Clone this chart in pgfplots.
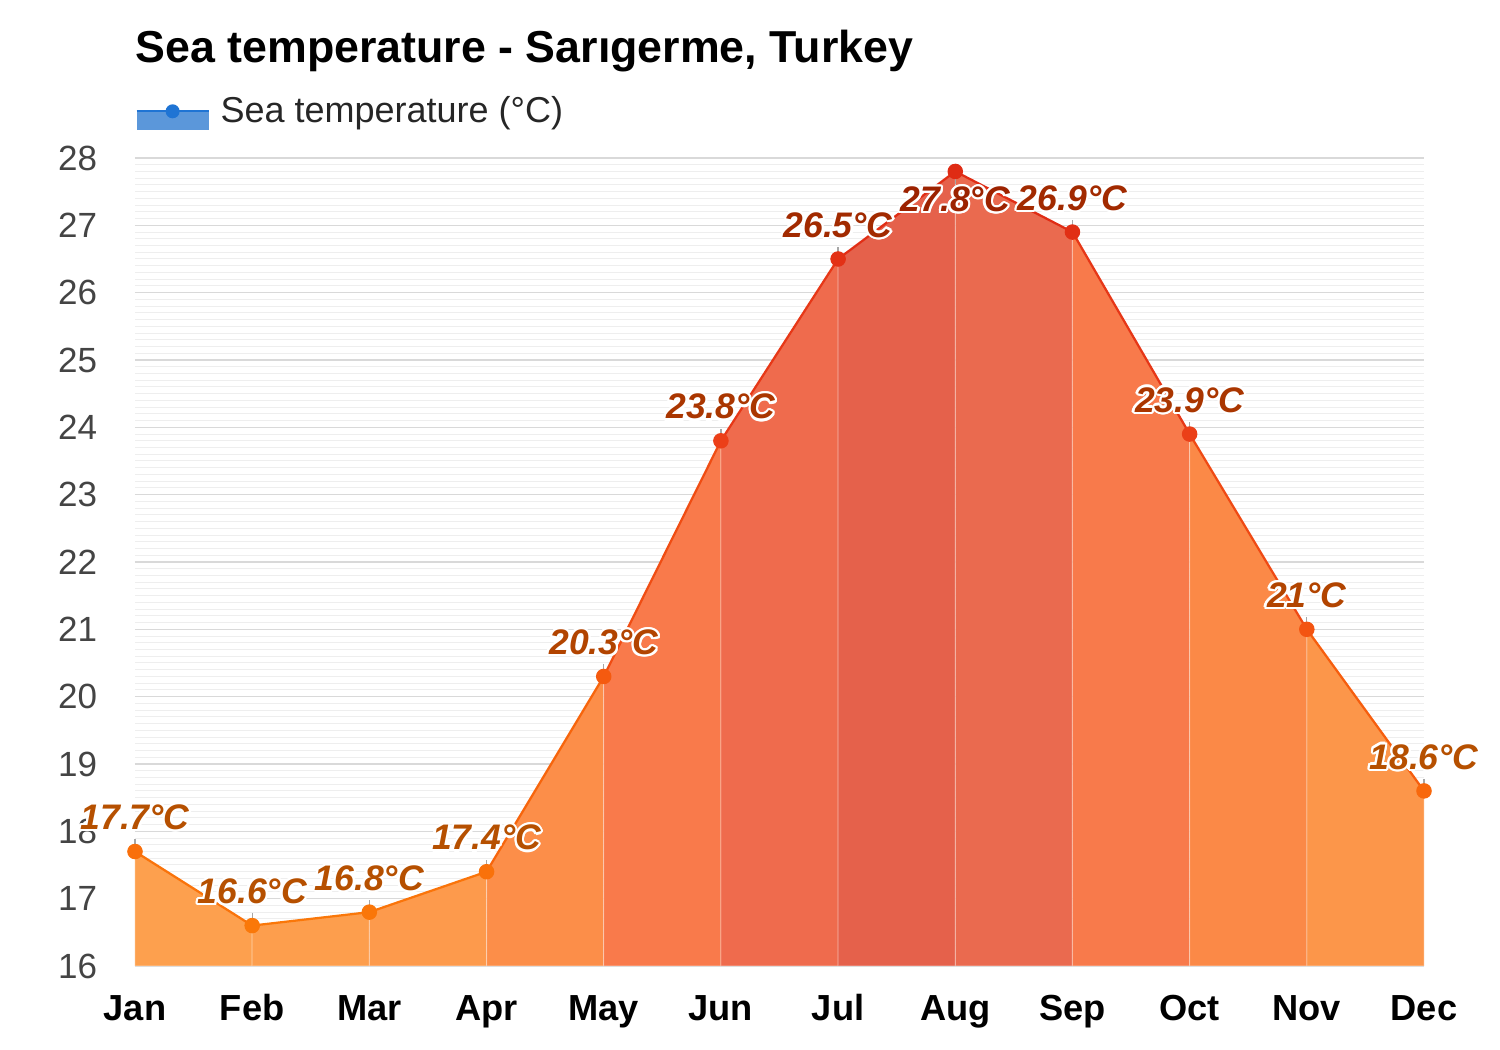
\documentclass[border=0pt]{standalone}
\usepackage{fontspec}
\setmainfont{Liberation Sans}
\usepackage{pgfplots}
\pgfplotsset{compat=1.18}
\usepackage{pgfplotstable}
\usepackage[copies]{contour}
\contourlength{0.9pt}

\definecolor{tickgray}{HTML}{444444}
\definecolor{majgrid}{HTML}{D9D9D9}
\definecolor{mingrid}{HTML}{EEEEEE}
\definecolor{legfill}{HTML}{5B97DA}
\definecolor{legline}{HTML}{1F74D4}
% label colours, light to dark
\definecolor{labA}{HTML}{B65000}
\definecolor{labB}{HTML}{B24400}
\definecolor{labC}{HTML}{AA3600}
\definecolor{labD}{HTML}{A22A00}
\definecolor{labE}{HTML}{9C2200}
% segment fills
\definecolor{f1}{HTML}{FDA04E}
\definecolor{f2}{HTML}{FD9E4D}
\definecolor{f3}{HTML}{FD9A4C}
\definecolor{f4}{HTML}{FC8E49}
\definecolor{f5}{HTML}{F97A4B}
\definecolor{f6}{HTML}{EF6B4D}
\definecolor{f7}{HTML}{E5614B}
\definecolor{f8}{HTML}{EA6A4F}
\definecolor{f9}{HTML}{F87A4B}
\definecolor{f10}{HTML}{FB8947}
\definecolor{f11}{HTML}{FC964A}

\pgfplotstableread{
x y ep em
0 17.7 0.18 0
1 16.6 0.18 0
2 16.8 0.18 0
3 17.4 0.18 0
4 20.3 0.18 0
5 23.8 0.18 0
6 26.5 0.18 0
7 27.8 0 0.18
8 26.9 0.18 0
9 23.9 0.18 0
10 21 0.18 0
11 18.6 0.18 0
}\sea

\pgfplotsset{
    vallabel/.style={only marks, mark=none, forget plot, point meta=y,
        nodes near coords={\color{#1}\contour{white}{\pgfmathprintnumber{\pgfplotspointmeta}°C}},
        every node near coord/.append style={font=\fontsize{14.2}{16}\selectfont\bfseries\itshape,
            anchor=south, yshift=7.5pt, inner sep=0pt}},
    seg/.style={fill=#1, draw=white, draw opacity=0.3, line width=0.4pt, forget plot},
}

\begin{document}
\begin{tikzpicture}
\path[use as bounding box] (-54pt,-33.6pt) rectangle (546pt,386.4pt);
\begin{axis}[
    at={(0,0)}, anchor=south west,
    scale only axis,
    width=515.6pt, height=323.2pt,
    xmin=0, xmax=11, ymin=16, ymax=28,
    clip=false,
    axis line style={draw=none},
    tick style={draw=none},
    xtick={0,...,11},
    xticklabels={Jan,Feb,Mar,Apr,May,Jun,Jul,Aug,Sep,Oct,Nov,Dec},
    x tick label style={font=\fontsize{14.5}{16}\selectfont\bfseries, text=black, inner sep=0pt,
        anchor=north, text height=10.5pt, text depth=3pt},
    xticklabel shift=11pt,
    ytick={16,...,28},
    minor y tick num=9,
    y tick label style={font=\fontsize{14}{16}\selectfont, text=tickgray, inner sep=0pt, anchor=east},
    yticklabel shift=15pt,
    /pgf/number format/assume math mode=true,
    ymajorgrids, yminorgrids,
    major grid style={majgrid, line width=0.5pt},
    minor grid style={mingrid, line width=0.4pt},
    legend style={at={(axis description cs:0,1)}, anchor=south west, yshift=10.5pt,
        draw=none, fill=none, inner sep=0pt,
        font=\fontsize{14.4}{16}\selectfont, text=black!85},
    legend cell align=left,
    colormap={temp}{rgb255=(251,125,8) rgb255=(246,92,14) rgb255=(235,62,24) rgb255=(222,42,20)},
    point meta min=16, point meta max=28,
]
% area, one band per month interval
\addplot[seg=f1] coordinates {(0,16) (0,17.7) (1,16.6) (1,16)} -- cycle;
\addplot[seg=f2] coordinates {(1,16) (1,16.6) (2,16.8) (2,16)} -- cycle;
\addplot[seg=f3] coordinates {(2,16) (2,16.8) (3,17.4) (3,16)} -- cycle;
\addplot[seg=f4] coordinates {(3,16) (3,17.4) (4,20.3) (4,16)} -- cycle;
\addplot[seg=f5] coordinates {(4,16) (4,20.3) (5,23.8) (5,16)} -- cycle;
\addplot[seg=f6] coordinates {(5,16) (5,23.8) (6,26.5) (6,16)} -- cycle;
\addplot[seg=f7] coordinates {(6,16) (6,26.5) (7,27.8) (7,16)} -- cycle;
\addplot[seg=f8] coordinates {(7,16) (7,27.8) (8,26.9) (8,16)} -- cycle;
\addplot[seg=f9] coordinates {(8,16) (8,26.9) (9,23.9) (9,16)} -- cycle;
\addplot[seg=f10] coordinates {(9,16) (9,23.9) (10,21) (10,16)} -- cycle;
\addplot[seg=f11] coordinates {(10,16) (10,21) (11,18.6) (11,16)} -- cycle;

% line
\addplot[mesh, point meta=\thisrow{y}, line width=0.9pt, forget plot] table[x=x, y=y] {\sea};

% label pins
\addplot[only marks, mark=none, forget plot,
    error bars/.cd, y dir=both, y explicit, error mark=none,
    error bar style={draw=black!35, line width=0.5pt}]
    table[x=x, y=y, y error plus=ep, y error minus=em] {\sea};

% markers
\addplot[scatter, only marks, mark=*, mark size=2.9pt, point meta=\thisrow{y},
    scatter/use mapped color={draw=mapped color, fill=mapped color}, forget plot]
    table[x=x, y=y] {\sea};

% value labels
\addplot[vallabel=labA] coordinates {(0,17.7) (1,16.6) (2,16.8) (3,17.4) (11,18.6)};
\addplot[vallabel=labB] coordinates {(4,20.3) (10,21)};
\addplot[vallabel=labC] coordinates {(5,23.8) (9,23.9)};
\addplot[vallabel=labD] coordinates {(6,26.5) (8,26.9)};
\addplot[vallabel=labE, every node near coord/.append style={anchor=north, yshift=-13.5pt}] coordinates {(7,27.8)};

\addlegendimage{legend image code/.code={
    \fill[legfill, draw=none] (0pt,-7.6pt) rectangle (28.8pt,0pt);
    \draw[legline, line width=0.9pt] (0pt,0pt) -- (28.8pt,0pt);
    \fill[legline, draw=none] (14.4pt,0pt) circle (2.8pt);
    \path[draw=none, fill=none] (28.8pt,0pt) -- (31.6pt,0pt);
}}
\addlegendentry{Sea temperature (°C)}

\node[anchor=base west, inner sep=0pt, font=\fontsize{17.9}{20}\selectfont\bfseries, text=black]
    at (axis description cs:0,1) [yshift=38pt] {Sea temperature - Sarıgerme, Turkey};
\end{axis}
\end{tikzpicture}
\end{document}
